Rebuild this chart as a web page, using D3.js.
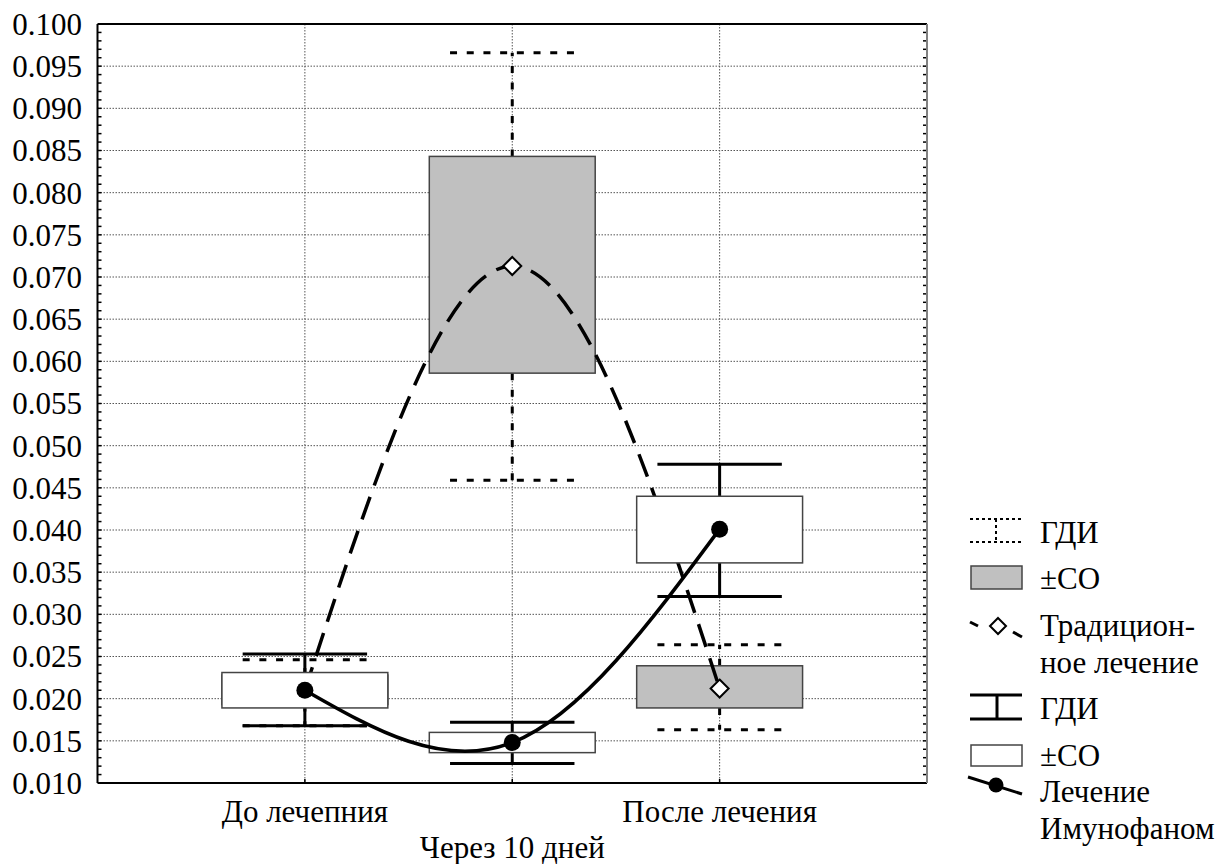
<!DOCTYPE html>
<html><head><meta charset="utf-8">
<script src="https://cdn.jsdelivr.net/npm/d3@7"></script>
<style>body{margin:0;background:#fff}</style>
</head><body><svg id="c" width="1225" height="864" font-family="'Liberation Serif', 'DejaVu Serif', 'Times New Roman', serif"></svg>
<script>
const categories = ["До лечепния", "Через 10 дней", "После лечения"];
// Traditional treatment (grey boxes, dotted whiskers, dashed line, diamonds)
const tradMean   = [0.0210, 0.0713, 0.0212];
const tradSdLow  = [0.0193, 0.0586, 0.0189];
const tradSdHigh = [0.0228, 0.0843, 0.0239];
const tradMin    = [0.0168, 0.0459, 0.0163];
const tradMax    = [0.0246, 0.0966, 0.0264];
// Imunofan treatment (white boxes, solid whiskers, solid line, dots)
const immMean   = [0.0210, 0.0148, 0.0401];
const immSdLow  = [0.0189, 0.0136, 0.0361];
const immSdHigh = [0.0231, 0.0160, 0.0440];
const immMin    = [0.0168, 0.0123, 0.0321];
const immMax    = [0.0253, 0.0172, 0.0478];
const yTicks = [0.010, 0.015, 0.020, 0.025, 0.030, 0.035, 0.040, 0.045, 0.050, 0.055,
                0.060, 0.065, 0.070, 0.075, 0.080, 0.085, 0.090, 0.095, 0.100];
const legendLabels = [["ГДИ"], ["±СО"], ["Традицион-", "ное лечение"], ["ГДИ"], ["±СО"], ["Лечение", "Имунофаном"]];

const svg = d3.select("#c");
const L = 97.5, R = 927, T = 24, B = 783;
const x = d3.scalePoint().domain(categories).range([L, R]).padding(1);
const y = d3.scaleLinear().domain([0.010, 0.100]).range([B, T]);
const step = x.step();
const boxHW = step * 0.4, capHW = step * 0.3;
const fs = 31;

// gridlines
const grid = svg.append("g");
grid.selectAll("line.h").data(yTicks.slice(1, -1)).join("line")
  .attr("x1", L).attr("x2", R).attr("y1", d => y(d)).attr("y2", d => y(d))
  .attr("stroke", "#555").attr("stroke-width", 1).attr("stroke-dasharray", "1.5,1.5");
grid.selectAll("line.v").data(categories).join("line")
  .attr("x1", d => x(d)).attr("x2", d => x(d)).attr("y1", T).attr("y2", B)
  .attr("stroke", "#555").attr("stroke-width", 1).attr("stroke-dasharray", "1.5,1.5");

// minor ticks
const minor = d3.range(11, 100).map(v => v / 1000);
svg.append("g").selectAll("line").data(minor).join("line")
  .attr("x1", L).attr("x2", L + 4).attr("y1", d => y(d)).attr("y2", d => y(d))
  .attr("stroke", "#000").attr("stroke-width", 1.5);
svg.append("g").selectAll("line").data(minor).join("line")
  .attr("x1", R - 4).attr("x2", R).attr("y1", d => y(d)).attr("y2", d => y(d))
  .attr("stroke", "#000").attr("stroke-width", 1.5);
svg.append("g").selectAll("line").data(categories).join("line")
  .attr("x1", d => x(d)).attr("x2", d => x(d)).attr("y1", B - 4).attr("y2", B)
  .attr("stroke", "#000").attr("stroke-width", 1.5);

// y tick labels
svg.append("g").selectAll("text").data(yTicks).join("text")
  .attr("x", 82).attr("y", d => y(d)).attr("dy", "0.35em").attr("text-anchor", "end")
  .attr("font-size", fs).text(d => d3.format(".3f")(d));

// x labels
svg.append("g").selectAll("text").data(categories).join("text")
  .attr("x", d => x(d)).attr("y", (d, i) => i === 1 ? 858 : 822).attr("text-anchor", "middle")
  .attr("font-size", fs).text(d => d);

function drawGroup(mean, lo, hi, mn, mx, fill, dash, lineDash, marker) {
  const g = svg.append("g");
  const idx = d3.range(categories.length);
  idx.forEach(i => {
    const cx = x(categories[i]);
    const attrs = s => s.attr("stroke", "#000").attr("stroke-width", 3).attr("stroke-dasharray", dash);
    attrs(g.append("line").attr("x1", cx).attr("x2", cx).attr("y1", y(hi[i])).attr("y2", y(mx[i])));
    attrs(g.append("line").attr("x1", cx).attr("x2", cx).attr("y1", y(lo[i])).attr("y2", y(mn[i])));
    attrs(g.append("line").attr("x1", cx - capHW).attr("x2", cx + capHW).attr("y1", y(mx[i])).attr("y2", y(mx[i])));
    attrs(g.append("line").attr("x1", cx - capHW).attr("x2", cx + capHW).attr("y1", y(mn[i])).attr("y2", y(mn[i])));
  });
  g.selectAll("rect").data(idx).join("rect")
    .attr("x", i => x(categories[i]) - boxHW).attr("width", 2 * boxHW)
    .attr("y", i => y(hi[i])).attr("height", i => y(lo[i]) - y(hi[i]))
    .attr("fill", fill).attr("stroke", "#444").attr("stroke-width", 1.5);
  const line = d3.line().x(i => x(categories[i])).y(i => y(mean[i])).curve(d3.curveNatural);
  g.append("path").attr("d", line(idx)).attr("fill", "none").attr("stroke", "#000")
    .attr("stroke-width", 3.5).attr("stroke-dasharray", lineDash);
  idx.forEach(i => marker(g, x(categories[i]), y(mean[i])));
}

const diamond = (g, cx, cy) => g.append("path")
  .attr("d", `M${cx},${cy - 9}L${cx + 9},${cy}L${cx},${cy + 9}L${cx - 9},${cy}Z`)
  .attr("fill", "#fff").attr("stroke", "#000").attr("stroke-width", 2);
const dot = (g, cx, cy) => g.append("circle").attr("cx", cx).attr("cy", cy).attr("r", 8.5).attr("fill", "#000");

drawGroup(tradMean, tradSdLow, tradSdHigh, tradMin, tradMax, "#c0c0c0", "7,9.7", "24,12", diamond);
drawGroup(immMean, immSdLow, immSdHigh, immMin, immMax, "#fff", null, null, dot);

// frame
svg.append("line").attr("x1", L).attr("x2", R).attr("y1", T).attr("y2", T).attr("stroke", "#000").attr("stroke-width", 2);
svg.append("line").attr("x1", L).attr("x2", R).attr("y1", B).attr("y2", B).attr("stroke", "#000").attr("stroke-width", 2);
svg.append("line").attr("x1", L).attr("x2", L).attr("y1", T).attr("y2", B).attr("stroke", "#000").attr("stroke-width", 2);
svg.append("line").attr("x1", R).attr("x2", R).attr("y1", T).attr("y2", B).attr("stroke", "#808080").attr("stroke-width", 2);

// legend
const lg = svg.append("g");
const lx0 = 970, lx1 = 1022, lmid = 996;
[519, 542].forEach(yy => lg.append("line").attr("x1", lx0).attr("x2", lx1).attr("y1", yy).attr("y2", yy)
  .attr("stroke", "#000").attr("stroke-width", 2).attr("stroke-dasharray", "3,3"));
lg.append("line").attr("x1", lmid).attr("x2", lmid).attr("y1", 519).attr("y2", 542)
  .attr("stroke", "#000").attr("stroke-width", 2).attr("stroke-dasharray", "3,3");
lg.append("rect").attr("x", 971).attr("y", 566).attr("width", 51).attr("height", 23)
  .attr("fill", "#c0c0c0").attr("stroke", "#444").attr("stroke-width", 1.5);
lg.append("line").attr("x1", 970).attr("y1", 622).attr("x2", 978).attr("y2", 626).attr("stroke", "#000").attr("stroke-width", 3);
lg.append("line").attr("x1", 1013).attr("y1", 632).attr("x2", 1022).attr("y2", 637).attr("stroke", "#000").attr("stroke-width", 3);
diamond(lg, 998, 626).attr("d", "M998,618L1006,626L998,634L990,626Z");
[695, 719].forEach(yy => lg.append("line").attr("x1", lx0).attr("x2", lx1).attr("y1", yy).attr("y2", yy)
  .attr("stroke", "#000").attr("stroke-width", 3));
lg.append("line").attr("x1", 997).attr("x2", 997).attr("y1", 695).attr("y2", 719).attr("stroke", "#000").attr("stroke-width", 3);
lg.append("rect").attr("x", 971).attr("y", 745).attr("width", 51).attr("height", 21)
  .attr("fill", "#fff").attr("stroke", "#444").attr("stroke-width", 1.5);
lg.append("line").attr("x1", 968).attr("y1", 777).attr("x2", 1022).attr("y2", 794).attr("stroke", "#000").attr("stroke-width", 3);
lg.append("circle").attr("cx", 996).attr("cy", 785).attr("r", 7.5).attr("fill", "#000");

const legendY = [543, 589, 636, 719, 766, 802];
legendLabels.forEach((lines, i) => {
  const t = lg.append("text").attr("x", 1040).attr("y", legendY[i]).attr("font-size", fs);
  lines.forEach((s, j) => t.append("tspan").attr("x", 1040).attr("dy", j === 0 ? 0 : 37).text(s));
});
</script></body></html>
